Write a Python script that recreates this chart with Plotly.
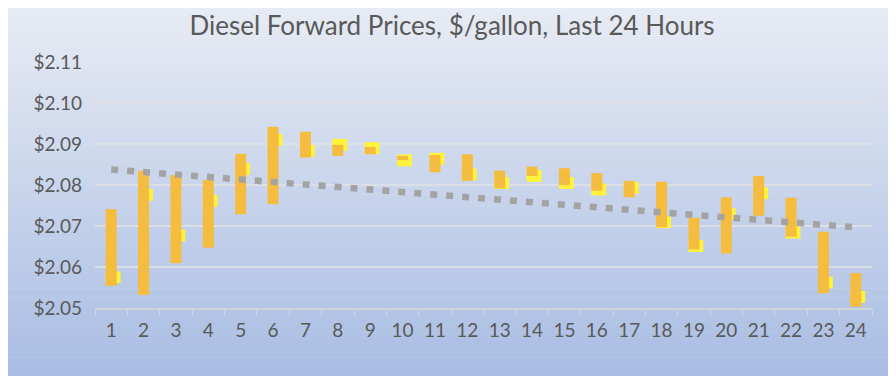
import numpy as np
import plotly.graph_objects as go

# ---- data ----
hours = [str(i) for i in range(1, 25)]
high = [2.0741, 2.0835, 2.0824, 2.0812, 2.0876, 2.0942, 2.0930, 2.0898, 2.0893, 2.0871, 2.0873, 2.0875,
        2.0835, 2.0845, 2.0841, 2.0829, 2.0810, 2.0808, 2.0720, 2.0770, 2.0822, 2.0769, 2.0686, 2.0585]
low = [2.0554, 2.0532, 2.0609, 2.0647, 2.0729, 2.0753, 2.0867, 2.0871, 2.0875, 2.0861, 2.0831, 2.0810,
       2.0792, 2.0822, 2.0800, 2.0786, 2.0770, 2.0697, 2.0643, 2.0633, 2.0725, 2.0674, 2.0536, 2.0503]
close = [2.0575, 2.0776, 2.0677, 2.0761, 2.0839, 2.0910, 2.0883, 2.0898, 2.0890, 2.0860, 2.0864, 2.0826,
         2.0805, 2.0822, 2.0805, 2.0789, 2.0793, 2.0709, 2.0651, 2.0729, 2.0780, 2.0684, 2.0562, 2.0527]
y_ticks = [2.05, 2.06, 2.07, 2.08, 2.09, 2.10, 2.11]
y_tick_labels = ["$2.05", "$2.06", "$2.07", "$2.08", "$2.09", "$2.10", "$2.11"]

# ---- styling ----
# page has an 8px body margin, so the figure is drawn 8px in from the top-left
OFF = 8
W, H = 896 - OFF, 376 - OFF
ML, MR, MT, MB = 95 - OFF, 24, 62 - OFF, 68
PW, PH = W - ML - MR, H - MT - MB
CLOSE_HALF = 0.00145
FONT = "Lato"
TXT = "#595959"
TITLE_SIZE = 26

# linear trendline of close values (as Excel does)
xs = np.arange(1, 25)
slope, icpt = np.polyfit(xs, close, 1)
trend = slope * xs + icpt

fig = go.Figure()

# close markers (yellow, behind)
fig.add_trace(go.Bar(
    x=hours, y=[2 * CLOSE_HALF] * 24, base=[c - CLOSE_HALF for c in close],
    width=0.46, offset=-0.17, marker=dict(color="#FFF23A", line=dict(width=0)),
    showlegend=False, hoverinfo="skip"))
# high-low bars (orange)
fig.add_trace(go.Bar(
    x=hours, y=[h - l for h, l in zip(high, low)], base=low,
    width=0.34, offset=-0.17, marker=dict(color="#F5BD3F", line=dict(width=0)),
    showlegend=False, hoverinfo="skip"))
# trendline
fig.add_trace(go.Scatter(
    x=hours, y=trend, mode="lines",
    line=dict(color="#A3A3A3", width=6.5, dash="7px,9px"),
    showlegend=False, hoverinfo="skip"))

# gradient background via stacked bands (paper coords), page-pixel based
def px_x(p):
    return (p - OFF - ML) / PW

def px_y(p):
    return 1 - (p - OFF - MT) / PH

top = np.array([0xE9, 0xEC, 0xF4])
bot = np.array([0xA8, 0xBD, 0xE3])
n = 60
shapes = []
for i in range(n):
    t = (i + 0.5) / n
    c = top + (bot - top) * t
    y0 = 376 * i / n
    y1 = 376 * (i + 1) / n + 0.6
    shapes.append(dict(type="rect", xref="paper", yref="paper",
                       x0=px_x(0), x1=px_x(900), y0=px_y(y1), y1=px_y(y0),
                       fillcolor="rgb(%d,%d,%d)" % tuple(c.round().astype(int)),
                       line=dict(width=0), layer="below"))

fig.update_layout(
    width=W, height=H,
    margin=dict(l=ML, r=MR, t=MT, b=MB),
    paper_bgcolor="white", plot_bgcolor="rgba(0,0,0,0)",
    barmode="overlay",
    shapes=shapes,
    title=dict(text="Diesel Forward Prices, $/gallon, Last 24 Hours",
               x=(452 - OFF) / W, xref="container", y=1 - 18.0 / H, yref="container",
               xanchor="center", yanchor="middle",
               pad=dict(t=0, b=0, l=0, r=0),
               font=dict(family=FONT, size=TITLE_SIZE, color=TXT)),
    xaxis=dict(type="category", range=[-0.5, 23.5], tickson="boundaries",
               ticks="outside", ticklen=6, tickcolor="#D0D4DC", tickwidth=1,
               showline=True, linecolor="#D0D4DC", linewidth=1.5,
               ticklabelstandoff=4,
               showgrid=False, tickfont=dict(family=FONT, size=19, color=TXT)),
    yaxis=dict(range=[2.05, 2.11], tickvals=y_ticks, ticktext=y_tick_labels,
               showgrid=True, gridcolor="rgba(222,224,230,0.9)", gridwidth=1.5,
               zeroline=False, showline=False, ticks="",
               ticklabelstandoff=12,
               tickfont=dict(family=FONT, size=19, color=TXT)),
)

fig.write_html("out.html")
